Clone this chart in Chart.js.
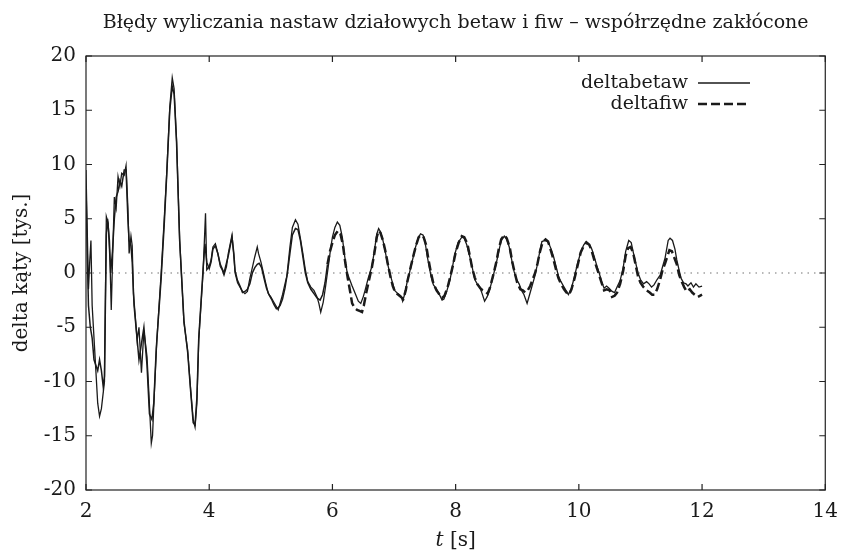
<!DOCTYPE html>
<html>
<head>
<meta charset="utf-8">
<script src="https://cdn.jsdelivr.net/npm/chart.js@4/dist/chart.umd.min.js"></script>
<style>
  html, body { margin: 0; padding: 0; background: #fff; }
  #wrap { width: 848px; height: 558px; }
</style>
</head>
<body>
<div id="wrap"><canvas id="wykres" width="848" height="558"></canvas></div>
<script>
// dane (czas w s, wartości w tys.)
const tBetaw = [2.00, 2.02, 2.04, 2.06, 2.08, 2.10, 2.13, 2.16, 2.19, 2.22, 2.25, 2.28, 2.30, 2.33, 2.36, 2.39, 2.41, 2.43, 2.46, 2.49,
  2.52, 2.55, 2.58, 2.62, 2.65, 2.68, 2.70, 2.73, 2.75, 2.77, 2.80, 2.83, 2.86, 2.90, 2.94, 2.99, 3.02, 3.06, 3.08, 3.11,
  3.15, 3.22, 3.27, 3.31, 3.36, 3.40, 3.43, 3.47, 3.52, 3.59, 3.65, 3.70, 3.74, 3.77, 3.80, 3.83, 3.90, 3.94, 3.96, 4.00,
  4.03, 4.06, 4.10, 4.14, 4.18, 4.21, 4.24, 4.28, 4.31, 4.37, 4.40, 4.42, 4.46, 4.50, 4.54, 4.58, 4.62, 4.66, 4.70, 4.74,
  4.78, 4.80, 4.84, 4.88, 4.92, 4.96, 5.00, 5.04, 5.08, 5.12, 5.15, 5.19, 5.23, 5.26, 5.31, 5.35, 5.40, 5.44, 5.48, 5.52,
  5.56, 5.60, 5.65, 5.70, 5.75, 5.78, 5.81, 5.85, 5.89, 5.93, 5.97, 6.00, 6.04, 6.08, 6.12, 6.16, 6.20, 6.24, 6.28, 6.32,
  6.37, 6.42, 6.46, 6.50, 6.53, 6.58, 6.64, 6.68, 6.72, 6.75, 6.78, 6.82, 6.85, 6.89, 6.93, 6.97, 7.01, 7.06, 7.11, 7.14,
  7.18, 7.21, 7.25, 7.30, 7.35, 7.39, 7.43, 7.47, 7.50, 7.54, 7.58, 7.60, 7.64, 7.68, 7.73, 7.78, 7.81, 7.86, 7.91, 7.95,
  7.99, 8.04, 8.10, 8.14, 8.18, 8.23, 8.27, 8.31, 8.35, 8.39, 8.43, 8.47, 8.51, 8.55, 8.60, 8.66, 8.70, 8.74, 8.79, 8.83,
  8.87, 8.91, 8.95, 8.99, 9.03, 9.07, 9.11, 9.16, 9.20, 9.24, 9.28, 9.32, 9.36, 9.40, 9.45, 9.50, 9.55, 9.59, 9.63, 9.67,
  9.71, 9.75, 9.79, 9.83, 9.88, 9.93, 9.98, 10.04, 10.08, 10.12, 10.16, 10.21, 10.25, 10.29, 10.33, 10.37, 10.41, 10.45, 10.49, 10.54,
  10.58, 10.62, 10.67, 10.72, 10.76, 10.81, 10.85, 10.88, 10.92, 10.96, 11.00, 11.05, 11.10, 11.14, 11.18, 11.22, 11.27, 11.32, 11.36, 11.40,
  11.45, 11.48, 11.52, 11.56, 11.59, 11.63, 11.66, 11.70, 11.74, 11.77, 11.82, 11.86, 11.90, 11.95, 12.00];
const deltabetaw = [9.5, 4, -1.5, 1, 3, -3, -6, -9, -12, -13.2, -12.5, -11, -10, 5.2, 4.6, 1, -3.4, 1, 7.0, 6,
  8.9, 8, 9.2, 9.0, 9.9, 6, 1.8, 3.4, 2.5, -1.9, -4, -6.2, -5.0, -9.2, -5.3, -7.7, -11, -15.7, -15, -11,
  -6.2, 0, 5, 9.2, 15.3, 18.0, 17, 12.3, 3.1, -4.6, -7.1, -10.8, -13.5, -14.2, -12, -6.2, 0, 5.5, 0.3, 0.6,
  1.2, 2.4, 2.7, 1.8, 0.6, 0.3, -0.2, 0.6, 1.8, 3.5, 1.5, 0, -0.9, -1.3, -1.7, -1.9, -1.7, -0.5, 0.5, 1.5,
  2.4, 1.8, 1.0, 0, -1.0, -1.9, -2.2, -2.6, -3.0, -3.4, -2.8, -2.0, -1.0, -0.3, 2.4, 4.2, 4.9, 4.5, 3.2, 1.8,
  0.3, -0.8, -1.3, -1.6, -2.2, -2.8, -3.6, -2.7, -1.2, 0.5, 2.2, 3.3, 4.2, 4.7, 4.4, 3.3, 1.5, 0, -0.6, -1.2,
  -1.9, -2.6, -2.8, -2.2, -1.6, -0.5, 0.6, 2.0, 3.6, 4.1, 3.8, 3.0, 2.2, 1.0, 0, -0.8, -1.6, -1.9, -2.1, -2.6,
  -1.8, -0.9, 0, 1.2, 2.4, 3.2, 3.6, 3.5, 3.0, 1.5, 0.3, -0.3, -1.1, -1.4, -1.9, -2.5, -2.4, -1.6, -0.6, 0.6,
  1.8, 2.8, 3.3, 3.2, 2.6, 1.5, 0.5, -0.6, -1.0, -1.3, -1.9, -2.6, -2.2, -1.6, -0.5, 0.9, 2.0, 3.0, 3.4, 3.1,
  2.4, 1.2, 0.1, -0.6, -1.0, -1.6, -2.0, -2.8, -2.0, -1.2, -0.4, 0.6, 1.8, 2.9, 3.0, 2.9, 2.2, 1.5, 0.6, -0.3,
  -0.8, -1.2, -1.6, -2.0, -1.4, -0.3, 0.9, 2.1, 2.6, 2.9, 2.7, 2.2, 1.5, 0.7, 0, -0.8, -1.4, -1.2, -1.4, -1.7,
  -1.8, -1.3, -0.7, 0.5, 2.0, 3.0, 2.8, 2.0, 1.0, 0, -0.6, -1.0, -0.8, -1.0, -1.3, -1.1, -0.6, -0.2, 0.6, 1.4,
  3.0, 3.2, 3.0, 2.2, 1.2, 0.2, -0.5, -0.9, -1.0, -1.2, -0.9, -1.3, -1.0, -1.3, -1.2];

const tFiw = [2.00, 2.02, 2.04, 2.07, 2.10, 2.13, 2.16, 2.19, 2.22, 2.25, 2.28, 2.30, 2.33, 2.35, 2.38, 2.40, 2.43, 2.46, 2.49, 2.52,
  2.55, 2.58, 2.62, 2.65, 2.68, 2.70, 2.73, 2.75, 2.78, 2.82, 2.86, 2.90, 2.94, 2.99, 3.03, 3.07, 3.10, 3.14, 3.22, 3.27,
  3.31, 3.36, 3.40, 3.43, 3.47, 3.52, 3.59, 3.65, 3.70, 3.74, 3.77, 3.80, 3.83, 3.90, 3.93, 3.96, 4.00, 4.03, 4.06, 4.10,
  4.14, 4.18, 4.24, 4.31, 4.37, 4.40, 4.42, 4.46, 4.50, 4.54, 4.58, 4.62, 4.66, 4.70, 4.74, 4.78, 4.81, 4.85, 4.89, 4.93,
  4.97, 5.01, 5.05, 5.09, 5.12, 5.15, 5.19, 5.23, 5.27, 5.31, 5.35, 5.40, 5.44, 5.48, 5.52, 5.56, 5.60, 5.65, 5.70, 5.75,
  5.80, 5.84, 5.88, 5.92, 5.96, 6.00, 6.04, 6.09, 6.13, 6.17, 6.21, 6.25, 6.29, 6.32, 6.36, 6.40, 6.44, 6.48, 6.51, 6.55,
  6.60, 6.64, 6.68, 6.72, 6.75, 6.78, 6.82, 6.86, 6.90, 6.94, 6.98, 7.02, 7.07, 7.11, 7.15, 7.19, 7.22, 7.26, 7.31, 7.36,
  7.40, 7.44, 7.48, 7.52, 7.56, 7.60, 7.64, 7.69, 7.74, 7.78, 7.82, 7.87, 7.91, 7.96, 8.00, 8.05, 8.10, 8.14, 8.19, 8.23,
  8.27, 8.31, 8.35, 8.40, 8.44, 8.48, 8.52, 8.56, 8.61, 8.66, 8.70, 8.74, 8.79, 8.83, 8.88, 8.92, 8.96, 9.00, 9.05, 9.09,
  9.13, 9.17, 9.21, 9.25, 9.29, 9.33, 9.37, 9.41, 9.46, 9.50, 9.55, 9.59, 9.63, 9.67, 9.71, 9.76, 9.80, 9.84, 9.88, 9.93,
  9.98, 10.03, 10.08, 10.12, 10.17, 10.21, 10.25, 10.29, 10.33, 10.37, 10.41, 10.45, 10.50, 10.54, 10.58, 10.62, 10.67, 10.72, 10.76, 10.80,
  10.84, 10.88, 10.92, 10.96, 11.00, 11.05, 11.10, 11.15, 11.19, 11.23, 11.27, 11.32, 11.36, 11.40, 11.44, 11.47, 11.51, 11.55, 11.59, 11.63,
  11.67, 11.71, 11.75, 11.80, 11.84, 11.88, 11.93, 12.00];
const deltafiw = [8, 2, -3, -5, -6, -8, -8.5, -9, -8.0, -9, -10.5, -9.5, 3.5, 5, 3, 0, 2, 5, 7, 7.5,
  8.5, 8, 9.5, 9.5, 5, 3, 2.5, 1, -3, -5.5, -8, -6.5, -5, -8.5, -13, -13.5, -12, -7, -0.5, 4.5,
  9, 15, 17.2, 16.5, 12, 3, -4.4, -7.3, -11, -13.8, -14, -11.5, -6, 0.3, 2.7, 1, 0.4, 1, 2.2, 2.5,
  1.8, 0.8, 0, 1.6, 3.3, 1.8, 0.2, -0.7, -1.2, -1.8, -1.7, -1.5, -1.0, 0, 0.5, 0.8, 0.9, 0.5, -0.5, -1.4,
  -2.0, -2.4, -2.9, -3.3, -3.2, -3.0, -2.4, -1.4, 0, 1.8, 3.5, 4.1, 4.0, 3.0, 1.5, 0, -0.9, -1.5, -1.9, -2.3,
  -2.5, -2.0, -0.9, 0.8, 2.0, 2.8, 3.5, 3.9, 3.6, 2.6, 0.9, -0.5, -1.8, -2.8, -3.2, -3.4, -3.5, -3.6, -3.0, -1.8,
  -0.5, 0.5, 1.8, 3.3, 3.9, 3.7, 3.0, 2.0, 0.8, -0.3, -1.2, -1.8, -2.0, -2.2, -2.4, -1.6, -0.7, 0.3, 1.5, 2.6,
  3.3, 3.5, 3.3, 2.6, 1.2, 0, -1.0, -1.6, -2.0, -2.3, -2.1, -1.3, -0.4, 0.8, 1.9, 2.8, 3.4, 3.3, 2.7, 1.6,
  0.4, -0.4, -1.0, -1.4, -1.6, -1.7, -1.9, -1.3, -0.2, 1.0, 2.2, 3.1, 3.5, 3.2, 2.3, 1.0, 0, -0.9, -1.5, -1.6,
  -1.8, -1.6, -1.2, -0.6, 0, 0.9, 2.0, 2.8, 3.1, 2.9, 2.0, 1.2, 0.3, -0.5, -1.0, -1.5, -1.8, -2.0, -1.5, -0.5,
  0.7, 1.9, 2.5, 2.8, 2.6, 2.0, 1.2, 0.5, -0.2, -0.9, -1.6, -1.5, -1.6, -2.2, -2.1, -1.8, -1.0, 0.2, 1.6, 2.3,
  2.4, 1.9, 0.8, -0.3, -0.9, -1.3, -1.6, -1.8, -2.0, -2.0, -1.5, -0.6, 0.3, 0.9, 1.6, 2.1, 2.0, 1.4, 0.8, -0.2,
  -0.8, -1.3, -1.7, -1.5, -1.8, -2.0, -2.2, -2.0];

const xTicks = [2, 4, 6, 8, 10, 12, 14];
const yTicks = [-20, -15, -10, -5, 0, 5, 10, 15, 20];

const tytul = 'Błędy wyliczania nastaw działowych betaw i fiw – współrzędne zakłócone';
const osY = 'delta kąty [tys.]';
const serif = '"DejaVu Serif", "Liberation Serif", serif';
const czarny = '#1a1a1a';

function punkty(ts, vs) {
  return ts.map((t, i) => ({ x: t, y: vs[i] }));
}

// ramka, znaczniki do środka, linia zera, legenda i podpisy osi
const dekoracje = {
  id: 'dekoracje',
  beforeDatasetsDraw(chart) {
    const { ctx, chartArea: a, scales } = chart;
    const y0 = scales.y.getPixelForValue(0);
    ctx.save();
    ctx.strokeStyle = '#b8b8b8';
    ctx.lineWidth = 2;
    ctx.setLineDash([1.5, 5]);
    ctx.beginPath();
    ctx.moveTo(a.left, y0);
    ctx.lineTo(a.right, y0);
    ctx.stroke();
    ctx.restore();
  },
  afterDatasetsDraw(chart) {
    const { ctx, chartArea: a, scales } = chart;
    ctx.save();
    ctx.strokeStyle = '#222';
    ctx.lineWidth = 1.2;
    ctx.strokeRect(a.left, a.top, a.right - a.left, a.bottom - a.top);
    ctx.beginPath();
    xTicks.forEach(v => {
      const x = scales.x.getPixelForValue(v);
      ctx.moveTo(x, a.bottom); ctx.lineTo(x, a.bottom - 6);
      ctx.moveTo(x, a.top); ctx.lineTo(x, a.top + 6);
    });
    yTicks.forEach(v => {
      const y = scales.y.getPixelForValue(v);
      ctx.moveTo(a.left, y); ctx.lineTo(a.left + 6, y);
      ctx.moveTo(a.right, y); ctx.lineTo(a.right - 6, y);
    });
    ctx.stroke();

    // tytuł
    ctx.fillStyle = czarny;
    ctx.textAlign = 'center';
    ctx.textBaseline = 'middle';
    ctx.font = '19px ' + serif;
    ctx.fillText(tytul, (a.left + a.right) / 2, 23);

    // oś Y
    ctx.save();
    ctx.translate(22, (a.top + a.bottom) / 2);
    ctx.rotate(-Math.PI / 2);
    ctx.font = '20px ' + serif;
    ctx.fillText(osY, 0, 0);
    ctx.restore();

    // oś X: kursywa t
    ctx.font = 'italic 20px ' + serif;
    const wT = ctx.measureText('t').width;
    ctx.font = '20px ' + serif;
    const wS = ctx.measureText(' [s]').width;
    const sx = (a.left + a.right) / 2 - (wT + wS) / 2;
    ctx.textAlign = 'left';
    ctx.font = 'italic 20px ' + serif;
    ctx.fillText('t', sx, 541);
    ctx.font = '20px ' + serif;
    ctx.fillText(' [s]', sx + wT, 541);

    // legenda
    ctx.font = '19px ' + serif;
    ctx.textAlign = 'right';
    chart.data.datasets.forEach((ds, i) => {
      const y = 83 + i * 21;
      ctx.fillStyle = czarny;
      ctx.fillText(ds.label, 688, y);
      ctx.strokeStyle = ds.borderColor;
      ctx.lineWidth = ds.borderWidth;
      ctx.setLineDash(ds.borderDash || []);
      ctx.beginPath();
      ctx.moveTo(698, y);
      ctx.lineTo(750, y);
      ctx.stroke();
    });
    ctx.restore();
  }
};

new Chart(document.getElementById('wykres'), {
  type: 'line',
  data: {
    datasets: [
      {
        label: 'deltabetaw',
        data: punkty(tBetaw, deltabetaw),
        borderColor: czarny,
        borderWidth: 1.3,
        pointRadius: 0,
        tension: 0,
        fill: false
      },
      {
        label: 'deltafiw',
        data: punkty(tFiw, deltafiw),
        borderColor: czarny,
        borderWidth: 2.5,
        borderDash: [9, 4],
        pointRadius: 0,
        tension: 0,
        fill: false,
        segment: {
          borderDash: c => c.p0.parsed.x < 5.9 ? [] : [9, 4],
          borderWidth: c => c.p0.parsed.x < 5.9 ? 1.5 : 2.5
        }
      }
    ]
  },
  options: {
    responsive: false,
    animation: false,
    layout: { padding: { top: 56, right: 10, left: 0, bottom: 0 } },
    plugins: {
      legend: { display: false },
      tooltip: { enabled: false },
      title: { display: false }
    },
    scales: {
      x: {
        type: 'linear',
        min: 2,
        max: 14,
        afterBuildTicks: s => { s.ticks = xTicks.map(v => ({ value: v })); },
        afterFit: s => { s.height = 68; },
        grid: { display: false, drawTicks: false },
        border: { display: false },
        ticks: { color: czarny, padding: 10, maxRotation: 0, font: { family: serif, size: 20 } }
      },
      y: {
        type: 'linear',
        min: -20,
        max: 20,
        afterBuildTicks: s => { s.ticks = yTicks.map(v => ({ value: v })); },
        afterFit: s => { s.width = 86; },
        grid: { display: false, drawTicks: false },
        border: { display: false },
        ticks: { color: czarny, padding: 10, font: { family: serif, size: 20 } }
      }
    }
  },
  plugins: [dekoracje]
});
</script>
</body>
</html>
